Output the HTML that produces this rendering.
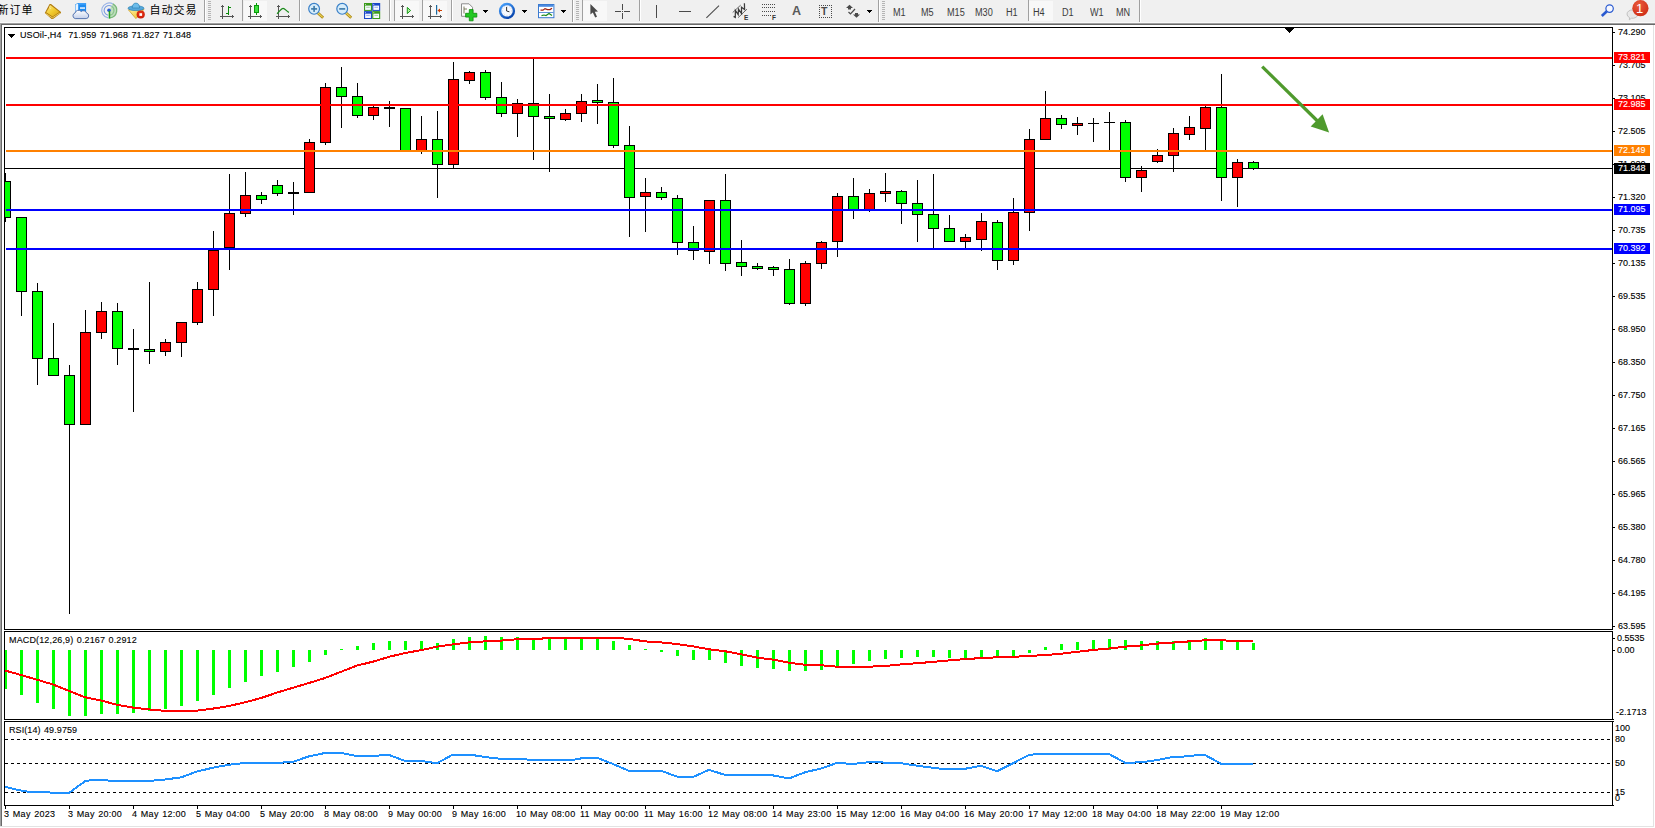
<!DOCTYPE html>
<html lang="zh">
<head>
<meta charset="utf-8">
<title>USOil H4</title>
<style>
html,body{margin:0;padding:0;}
body{width:1655px;height:828px;overflow:hidden;background:#f0f0f0;position:relative;font-family:"Liberation Sans","Noto Sans CJK SC",sans-serif;}
#g{position:absolute;left:0;top:0;}
span{position:absolute;white-space:nowrap;}
.ax,.tm,.lb{-webkit-text-stroke:0.12px #000;}
.bx .ax{-webkit-text-stroke:0.12px #fff;}
.ax{left:1618px;font-size:9.5px;line-height:11px;height:11px;color:#000;transform:scaleX(0.947);transform-origin:0 0;}
.bx{position:absolute;left:1614px;width:36px;height:11px;color:#fff;overflow:hidden;}
.bx .ax{color:#fff;}
.tm{top:808px;font-size:9.5px;line-height:11px;color:#000;letter-spacing:0.3px;word-spacing:0.8px;transform:scaleX(0.947);transform-origin:0 0;}
.lb{font-size:9.5px;line-height:11px;color:#000;letter-spacing:0.12px;word-spacing:0.8px;transform:scaleX(0.947);transform-origin:0 0;}
.tb{font-size:11px;letter-spacing:1px;line-height:16px;color:#000;top:2px;}
.tf{font-size:10px;line-height:11px;color:#3c3c3c;top:6.5px;transform:scaleX(0.91);transform-origin:0 0;}
</style>
</head>
<body>
<svg id="g" width="1655" height="828" viewBox="0 0 1655 828" shape-rendering="crispEdges">
<defs><clipPath id="cpm"><rect x="5" y="28" width="1607" height="601"/></clipPath>
<linearGradient id="gbk" x1="0" y1="0" x2="1" y2="1"><stop offset="0" stop-color="#fbe888"/><stop offset="0.5" stop-color="#f2cc30"/><stop offset="1" stop-color="#d8a418"/></linearGradient>
<radialGradient id="gbd" cx="0.4" cy="0.3" r="0.8"><stop offset="0" stop-color="#ea5a3c"/><stop offset="1" stop-color="#cc2a12"/></radialGradient>
<linearGradient id="gcl" x1="0" y1="0" x2="0" y2="1"><stop offset="0" stop-color="#ffffff"/><stop offset="1" stop-color="#c4d0ea"/></linearGradient>
<linearGradient id="gfc" x1="0" y1="0" x2="1" y2="1"><stop offset="0" stop-color="#fff0a0"/><stop offset="1" stop-color="#eebc20"/></linearGradient>
<radialGradient id="grd" cx="0.5" cy="0.4" r="0.7"><stop offset="0" stop-color="#f03a18"/><stop offset="1" stop-color="#c01808"/></radialGradient>
<linearGradient id="gck" x1="0" y1="0" x2="0.6" y2="1"><stop offset="0" stop-color="#4aa4ff"/><stop offset="1" stop-color="#0a48b0"/></linearGradient>
</defs>
<rect x="0" y="23" width="1655" height="805" fill="#ffffff"/>
<rect x="0" y="22" width="1655" height="1" fill="#fafafa"/>
<rect x="0" y="23" width="1655" height="1" fill="#a0a0a0"/>
<rect x="1" y="24" width="1654" height="1" fill="#696969"/>
<rect x="0" y="23" width="1" height="803" fill="#a0a0a0"/>
<rect x="1" y="24" width="1" height="802" fill="#696969"/>
<rect x="1653" y="25" width="1" height="802" fill="#e3e3e3"/>
<rect x="0" y="826" width="1654" height="1" fill="#e3e3e3"/>
<rect x="4" y="27" width="1609" height="1" fill="#000"/>
<rect x="4" y="629" width="1609" height="1" fill="#000"/>
<rect x="4" y="27" width="1" height="603" fill="#000"/>
<rect x="1612" y="27" width="1" height="603" fill="#000"/>
<rect x="4" y="631" width="1609" height="1" fill="#000"/>
<rect x="4" y="719" width="1609" height="1" fill="#000"/>
<rect x="4" y="631" width="1" height="89" fill="#000"/>
<rect x="1612" y="631" width="1" height="89" fill="#000"/>
<rect x="4" y="721" width="1609" height="1" fill="#000"/>
<rect x="4" y="805" width="1609" height="1" fill="#000"/>
<rect x="4" y="721" width="1" height="85" fill="#000"/>
<rect x="1612" y="721" width="1" height="85" fill="#000"/>
<rect x="5" y="168" width="1607" height="1" fill="#000"/>
<g clip-path="url(#cpm)">
<rect x="5" y="173" width="1" height="49" fill="#000"/>
<rect x="0" y="181" width="11" height="37" fill="#000"/>
<rect x="1" y="182" width="9" height="35" fill="#00ff00"/>
<rect x="21" y="217" width="1" height="99" fill="#000"/>
<rect x="16" y="217" width="11" height="75" fill="#000"/>
<rect x="17" y="218" width="9" height="73" fill="#00ff00"/>
<rect x="37" y="283" width="1" height="102" fill="#000"/>
<rect x="32" y="291" width="11" height="68" fill="#000"/>
<rect x="33" y="292" width="9" height="66" fill="#00ff00"/>
<rect x="53" y="323" width="1" height="53" fill="#000"/>
<rect x="48" y="358" width="11" height="18" fill="#000"/>
<rect x="49" y="359" width="9" height="16" fill="#00ff00"/>
<rect x="69" y="365" width="1" height="249" fill="#000"/>
<rect x="64" y="375" width="11" height="50" fill="#000"/>
<rect x="65" y="376" width="9" height="48" fill="#00ff00"/>
<rect x="85" y="310" width="1" height="115" fill="#000"/>
<rect x="80" y="332" width="11" height="93" fill="#000"/>
<rect x="81" y="333" width="9" height="91" fill="#ff0000"/>
<rect x="101" y="302" width="1" height="37" fill="#000"/>
<rect x="96" y="311" width="11" height="22" fill="#000"/>
<rect x="97" y="312" width="9" height="20" fill="#ff0000"/>
<rect x="117" y="303" width="1" height="62" fill="#000"/>
<rect x="112" y="311" width="11" height="38" fill="#000"/>
<rect x="113" y="312" width="9" height="36" fill="#00ff00"/>
<rect x="133" y="329" width="1" height="83" fill="#000"/>
<rect x="128" y="348" width="11" height="2" fill="#000"/>
<rect x="149" y="282" width="1" height="82" fill="#000"/>
<rect x="144" y="349" width="11" height="3" fill="#000"/>
<rect x="145" y="350" width="9" height="1" fill="#00ff00"/>
<rect x="165" y="339" width="1" height="17" fill="#000"/>
<rect x="160" y="342" width="11" height="10" fill="#000"/>
<rect x="161" y="343" width="9" height="8" fill="#ff0000"/>
<rect x="181" y="322" width="1" height="35" fill="#000"/>
<rect x="176" y="322" width="11" height="21" fill="#000"/>
<rect x="177" y="323" width="9" height="19" fill="#ff0000"/>
<rect x="197" y="282" width="1" height="43" fill="#000"/>
<rect x="192" y="289" width="11" height="34" fill="#000"/>
<rect x="193" y="290" width="9" height="32" fill="#ff0000"/>
<rect x="213" y="231" width="1" height="85" fill="#000"/>
<rect x="208" y="250" width="11" height="40" fill="#000"/>
<rect x="209" y="251" width="9" height="38" fill="#ff0000"/>
<rect x="229" y="174" width="1" height="96" fill="#000"/>
<rect x="224" y="213" width="11" height="35" fill="#000"/>
<rect x="225" y="214" width="9" height="33" fill="#ff0000"/>
<rect x="245" y="172" width="1" height="45" fill="#000"/>
<rect x="240" y="195" width="11" height="19" fill="#000"/>
<rect x="241" y="196" width="9" height="17" fill="#ff0000"/>
<rect x="261" y="192" width="1" height="12" fill="#000"/>
<rect x="256" y="195" width="11" height="5" fill="#000"/>
<rect x="257" y="196" width="9" height="3" fill="#00ff00"/>
<rect x="277" y="180" width="1" height="16" fill="#000"/>
<rect x="272" y="185" width="11" height="9" fill="#000"/>
<rect x="273" y="186" width="9" height="7" fill="#00ff00"/>
<rect x="293" y="182" width="1" height="33" fill="#000"/>
<rect x="288" y="192" width="11" height="2" fill="#000"/>
<rect x="309" y="139" width="1" height="54" fill="#000"/>
<rect x="304" y="142" width="11" height="51" fill="#000"/>
<rect x="305" y="143" width="9" height="49" fill="#ff0000"/>
<rect x="325" y="83" width="1" height="62" fill="#000"/>
<rect x="320" y="87" width="11" height="56" fill="#000"/>
<rect x="321" y="88" width="9" height="54" fill="#ff0000"/>
<rect x="341" y="67" width="1" height="61" fill="#000"/>
<rect x="336" y="87" width="11" height="10" fill="#000"/>
<rect x="337" y="88" width="9" height="8" fill="#00ff00"/>
<rect x="357" y="83" width="1" height="35" fill="#000"/>
<rect x="352" y="96" width="11" height="20" fill="#000"/>
<rect x="353" y="97" width="9" height="18" fill="#00ff00"/>
<rect x="373" y="106" width="1" height="14" fill="#000"/>
<rect x="368" y="107" width="11" height="9" fill="#000"/>
<rect x="369" y="108" width="9" height="7" fill="#ff0000"/>
<rect x="389" y="101" width="1" height="26" fill="#000"/>
<rect x="384" y="107" width="11" height="2" fill="#000"/>
<rect x="405" y="108" width="1" height="44" fill="#000"/>
<rect x="400" y="108" width="11" height="44" fill="#000"/>
<rect x="401" y="109" width="9" height="42" fill="#00ff00"/>
<rect x="421" y="116" width="1" height="38" fill="#000"/>
<rect x="416" y="139" width="11" height="13" fill="#000"/>
<rect x="417" y="140" width="9" height="11" fill="#ff0000"/>
<rect x="437" y="111" width="1" height="87" fill="#000"/>
<rect x="432" y="139" width="11" height="26" fill="#000"/>
<rect x="433" y="140" width="9" height="24" fill="#00ff00"/>
<rect x="453" y="62" width="1" height="106" fill="#000"/>
<rect x="448" y="79" width="11" height="86" fill="#000"/>
<rect x="449" y="80" width="9" height="84" fill="#ff0000"/>
<rect x="469" y="71" width="1" height="13" fill="#000"/>
<rect x="464" y="72" width="11" height="9" fill="#000"/>
<rect x="465" y="73" width="9" height="7" fill="#ff0000"/>
<rect x="485" y="70" width="1" height="30" fill="#000"/>
<rect x="480" y="72" width="11" height="26" fill="#000"/>
<rect x="481" y="73" width="9" height="24" fill="#00ff00"/>
<rect x="501" y="82" width="1" height="35" fill="#000"/>
<rect x="496" y="97" width="11" height="17" fill="#000"/>
<rect x="497" y="98" width="9" height="15" fill="#00ff00"/>
<rect x="517" y="99" width="1" height="38" fill="#000"/>
<rect x="512" y="103" width="11" height="11" fill="#000"/>
<rect x="513" y="104" width="9" height="9" fill="#ff0000"/>
<rect x="533" y="59" width="1" height="101" fill="#000"/>
<rect x="528" y="103" width="11" height="14" fill="#000"/>
<rect x="529" y="104" width="9" height="12" fill="#00ff00"/>
<rect x="549" y="94" width="1" height="78" fill="#000"/>
<rect x="544" y="116" width="11" height="3" fill="#000"/>
<rect x="545" y="117" width="9" height="1" fill="#00ff00"/>
<rect x="565" y="109" width="1" height="12" fill="#000"/>
<rect x="560" y="113" width="11" height="7" fill="#000"/>
<rect x="561" y="114" width="9" height="5" fill="#ff0000"/>
<rect x="581" y="94" width="1" height="28" fill="#000"/>
<rect x="576" y="101" width="11" height="13" fill="#000"/>
<rect x="577" y="102" width="9" height="11" fill="#ff0000"/>
<rect x="597" y="84" width="1" height="40" fill="#000"/>
<rect x="592" y="100" width="11" height="3" fill="#000"/>
<rect x="593" y="101" width="9" height="1" fill="#00ff00"/>
<rect x="613" y="78" width="1" height="70" fill="#000"/>
<rect x="608" y="102" width="11" height="44" fill="#000"/>
<rect x="609" y="103" width="9" height="42" fill="#00ff00"/>
<rect x="629" y="126" width="1" height="111" fill="#000"/>
<rect x="624" y="145" width="11" height="53" fill="#000"/>
<rect x="625" y="146" width="9" height="51" fill="#00ff00"/>
<rect x="645" y="178" width="1" height="54" fill="#000"/>
<rect x="640" y="192" width="11" height="5" fill="#000"/>
<rect x="641" y="193" width="9" height="3" fill="#ff0000"/>
<rect x="661" y="187" width="1" height="13" fill="#000"/>
<rect x="656" y="192" width="11" height="6" fill="#000"/>
<rect x="657" y="193" width="9" height="4" fill="#00ff00"/>
<rect x="677" y="195" width="1" height="60" fill="#000"/>
<rect x="672" y="198" width="11" height="45" fill="#000"/>
<rect x="673" y="199" width="9" height="43" fill="#00ff00"/>
<rect x="693" y="226" width="1" height="34" fill="#000"/>
<rect x="688" y="242" width="11" height="9" fill="#000"/>
<rect x="689" y="243" width="9" height="7" fill="#00ff00"/>
<rect x="709" y="200" width="1" height="64" fill="#000"/>
<rect x="704" y="200" width="11" height="52" fill="#000"/>
<rect x="705" y="201" width="9" height="50" fill="#ff0000"/>
<rect x="725" y="174" width="1" height="97" fill="#000"/>
<rect x="720" y="200" width="11" height="64" fill="#000"/>
<rect x="721" y="201" width="9" height="62" fill="#00ff00"/>
<rect x="741" y="240" width="1" height="36" fill="#000"/>
<rect x="736" y="262" width="11" height="5" fill="#000"/>
<rect x="737" y="263" width="9" height="3" fill="#00ff00"/>
<rect x="757" y="263" width="1" height="7" fill="#000"/>
<rect x="752" y="266" width="11" height="3" fill="#000"/>
<rect x="753" y="267" width="9" height="1" fill="#00ff00"/>
<rect x="773" y="266" width="1" height="10" fill="#000"/>
<rect x="768" y="267" width="11" height="3" fill="#000"/>
<rect x="769" y="268" width="9" height="1" fill="#00ff00"/>
<rect x="789" y="259" width="1" height="46" fill="#000"/>
<rect x="784" y="269" width="11" height="35" fill="#000"/>
<rect x="785" y="270" width="9" height="33" fill="#00ff00"/>
<rect x="805" y="261" width="1" height="45" fill="#000"/>
<rect x="800" y="263" width="11" height="41" fill="#000"/>
<rect x="801" y="264" width="9" height="39" fill="#ff0000"/>
<rect x="821" y="241" width="1" height="28" fill="#000"/>
<rect x="816" y="242" width="11" height="22" fill="#000"/>
<rect x="817" y="243" width="9" height="20" fill="#ff0000"/>
<rect x="837" y="193" width="1" height="64" fill="#000"/>
<rect x="832" y="196" width="11" height="46" fill="#000"/>
<rect x="833" y="197" width="9" height="44" fill="#ff0000"/>
<rect x="853" y="178" width="1" height="41" fill="#000"/>
<rect x="848" y="196" width="11" height="15" fill="#000"/>
<rect x="849" y="197" width="9" height="13" fill="#00ff00"/>
<rect x="869" y="189" width="1" height="23" fill="#000"/>
<rect x="864" y="193" width="11" height="18" fill="#000"/>
<rect x="865" y="194" width="9" height="16" fill="#ff0000"/>
<rect x="885" y="173" width="1" height="29" fill="#000"/>
<rect x="880" y="191" width="11" height="3" fill="#000"/>
<rect x="881" y="192" width="9" height="1" fill="#ff0000"/>
<rect x="901" y="190" width="1" height="34" fill="#000"/>
<rect x="896" y="191" width="11" height="13" fill="#000"/>
<rect x="897" y="192" width="9" height="11" fill="#00ff00"/>
<rect x="917" y="180" width="1" height="62" fill="#000"/>
<rect x="912" y="203" width="11" height="12" fill="#000"/>
<rect x="913" y="204" width="9" height="10" fill="#00ff00"/>
<rect x="933" y="174" width="1" height="74" fill="#000"/>
<rect x="928" y="214" width="11" height="15" fill="#000"/>
<rect x="929" y="215" width="9" height="13" fill="#00ff00"/>
<rect x="949" y="215" width="1" height="27" fill="#000"/>
<rect x="944" y="228" width="11" height="14" fill="#000"/>
<rect x="945" y="229" width="9" height="12" fill="#00ff00"/>
<rect x="965" y="234" width="1" height="14" fill="#000"/>
<rect x="960" y="237" width="11" height="5" fill="#000"/>
<rect x="961" y="238" width="9" height="3" fill="#ff0000"/>
<rect x="981" y="213" width="1" height="38" fill="#000"/>
<rect x="976" y="221" width="11" height="19" fill="#000"/>
<rect x="977" y="222" width="9" height="17" fill="#ff0000"/>
<rect x="997" y="220" width="1" height="50" fill="#000"/>
<rect x="992" y="222" width="11" height="39" fill="#000"/>
<rect x="993" y="223" width="9" height="37" fill="#00ff00"/>
<rect x="1013" y="198" width="1" height="67" fill="#000"/>
<rect x="1008" y="212" width="11" height="49" fill="#000"/>
<rect x="1009" y="213" width="9" height="47" fill="#ff0000"/>
<rect x="1029" y="129" width="1" height="102" fill="#000"/>
<rect x="1024" y="139" width="11" height="74" fill="#000"/>
<rect x="1025" y="140" width="9" height="72" fill="#ff0000"/>
<rect x="1045" y="91" width="1" height="49" fill="#000"/>
<rect x="1040" y="118" width="11" height="22" fill="#000"/>
<rect x="1041" y="119" width="9" height="20" fill="#ff0000"/>
<rect x="1061" y="115" width="1" height="14" fill="#000"/>
<rect x="1056" y="118" width="11" height="7" fill="#000"/>
<rect x="1057" y="119" width="9" height="5" fill="#00ff00"/>
<rect x="1077" y="117" width="1" height="18" fill="#000"/>
<rect x="1072" y="123" width="11" height="3" fill="#000"/>
<rect x="1073" y="124" width="9" height="1" fill="#ff0000"/>
<rect x="1093" y="118" width="1" height="24" fill="#000"/>
<rect x="1088" y="123" width="11" height="1" fill="#000"/>
<rect x="1109" y="112" width="1" height="38" fill="#000"/>
<rect x="1104" y="122" width="11" height="1" fill="#000"/>
<rect x="1125" y="120" width="1" height="62" fill="#000"/>
<rect x="1120" y="122" width="11" height="56" fill="#000"/>
<rect x="1121" y="123" width="9" height="54" fill="#00ff00"/>
<rect x="1141" y="166" width="1" height="26" fill="#000"/>
<rect x="1136" y="170" width="11" height="8" fill="#000"/>
<rect x="1137" y="171" width="9" height="6" fill="#ff0000"/>
<rect x="1157" y="149" width="1" height="14" fill="#000"/>
<rect x="1152" y="155" width="11" height="7" fill="#000"/>
<rect x="1153" y="156" width="9" height="5" fill="#ff0000"/>
<rect x="1173" y="128" width="1" height="44" fill="#000"/>
<rect x="1168" y="133" width="11" height="23" fill="#000"/>
<rect x="1169" y="134" width="9" height="21" fill="#ff0000"/>
<rect x="1189" y="116" width="1" height="24" fill="#000"/>
<rect x="1184" y="127" width="11" height="8" fill="#000"/>
<rect x="1185" y="128" width="9" height="6" fill="#ff0000"/>
<rect x="1205" y="106" width="1" height="44" fill="#000"/>
<rect x="1200" y="107" width="11" height="22" fill="#000"/>
<rect x="1201" y="108" width="9" height="20" fill="#ff0000"/>
<rect x="1221" y="74" width="1" height="127" fill="#000"/>
<rect x="1216" y="107" width="11" height="71" fill="#000"/>
<rect x="1217" y="108" width="9" height="69" fill="#00ff00"/>
<rect x="1237" y="159" width="1" height="48" fill="#000"/>
<rect x="1232" y="162" width="11" height="16" fill="#000"/>
<rect x="1233" y="163" width="9" height="14" fill="#ff0000"/>
<rect x="1253" y="161" width="1" height="9" fill="#000"/>
<rect x="1248" y="162" width="11" height="7" fill="#000"/>
<rect x="1249" y="163" width="9" height="5" fill="#00ff00"/>
</g>
<rect x="6" y="57" width="1606" height="2" fill="#ff0000"/>
<rect x="6" y="104" width="1606" height="2" fill="#ff0000"/>
<rect x="6" y="150" width="1606" height="2" fill="#ff8000"/>
<rect x="6" y="209" width="1606" height="2" fill="#0000ff"/>
<rect x="6" y="248" width="1606" height="2" fill="#0000ff"/>
<g shape-rendering="geometricPrecision"><line x1="1262.2" y1="66.7" x2="1318" y2="121.5" stroke="#4f9a2d" stroke-width="3.2"/><polygon points="1329.1,132.4 1322.6,114.2 1310.7,126.5" fill="#4f9a2d"/></g>
<rect x="1285" y="28" width="9" height="1" fill="#000"/>
<rect x="1286" y="29" width="7" height="1" fill="#000"/>
<rect x="1287" y="30" width="5" height="1" fill="#000"/>
<rect x="1288" y="31" width="3" height="1" fill="#000"/>
<rect x="1289" y="32" width="1" height="1" fill="#000"/>
<rect x="1613" y="32" width="2" height="1" fill="#000"/>
<rect x="1613" y="65" width="2" height="1" fill="#000"/>
<rect x="1613" y="98" width="2" height="1" fill="#000"/>
<rect x="1613" y="131" width="2" height="1" fill="#000"/>
<rect x="1613" y="164" width="2" height="1" fill="#000"/>
<rect x="1613" y="197" width="2" height="1" fill="#000"/>
<rect x="1613" y="230" width="2" height="1" fill="#000"/>
<rect x="1613" y="263" width="2" height="1" fill="#000"/>
<rect x="1613" y="296" width="2" height="1" fill="#000"/>
<rect x="1613" y="329" width="2" height="1" fill="#000"/>
<rect x="1613" y="362" width="2" height="1" fill="#000"/>
<rect x="1613" y="395" width="2" height="1" fill="#000"/>
<rect x="1613" y="428" width="2" height="1" fill="#000"/>
<rect x="1613" y="461" width="2" height="1" fill="#000"/>
<rect x="1613" y="494" width="2" height="1" fill="#000"/>
<rect x="1613" y="527" width="2" height="1" fill="#000"/>
<rect x="1613" y="560" width="2" height="1" fill="#000"/>
<rect x="1613" y="593" width="2" height="1" fill="#000"/>
<rect x="1613" y="626" width="2" height="1" fill="#000"/>
<rect x="5" y="650" width="2" height="39" fill="#00ff00"/>
<rect x="20" y="650" width="3" height="45" fill="#00ff00"/>
<rect x="36" y="650" width="3" height="53" fill="#00ff00"/>
<rect x="52" y="650" width="3" height="59" fill="#00ff00"/>
<rect x="68" y="650" width="3" height="66" fill="#00ff00"/>
<rect x="84" y="650" width="3" height="66" fill="#00ff00"/>
<rect x="100" y="650" width="3" height="64" fill="#00ff00"/>
<rect x="116" y="650" width="3" height="64" fill="#00ff00"/>
<rect x="132" y="650" width="3" height="63" fill="#00ff00"/>
<rect x="148" y="650" width="3" height="61" fill="#00ff00"/>
<rect x="164" y="650" width="3" height="59" fill="#00ff00"/>
<rect x="180" y="650" width="3" height="56" fill="#00ff00"/>
<rect x="196" y="650" width="3" height="51" fill="#00ff00"/>
<rect x="212" y="650" width="3" height="45" fill="#00ff00"/>
<rect x="228" y="650" width="3" height="38" fill="#00ff00"/>
<rect x="244" y="650" width="3" height="32" fill="#00ff00"/>
<rect x="260" y="650" width="3" height="26" fill="#00ff00"/>
<rect x="276" y="650" width="3" height="22" fill="#00ff00"/>
<rect x="292" y="650" width="3" height="17" fill="#00ff00"/>
<rect x="308" y="650" width="3" height="12" fill="#00ff00"/>
<rect x="324" y="650" width="3" height="5" fill="#00ff00"/>
<rect x="340" y="649" width="3" height="1" fill="#00ff00"/>
<rect x="356" y="646" width="3" height="4" fill="#00ff00"/>
<rect x="372" y="643" width="3" height="7" fill="#00ff00"/>
<rect x="388" y="641" width="3" height="9" fill="#00ff00"/>
<rect x="404" y="641" width="3" height="9" fill="#00ff00"/>
<rect x="420" y="641" width="3" height="9" fill="#00ff00"/>
<rect x="436" y="643" width="3" height="7" fill="#00ff00"/>
<rect x="452" y="639" width="3" height="11" fill="#00ff00"/>
<rect x="468" y="637" width="3" height="13" fill="#00ff00"/>
<rect x="484" y="636" width="3" height="14" fill="#00ff00"/>
<rect x="500" y="637" width="3" height="13" fill="#00ff00"/>
<rect x="516" y="637" width="3" height="13" fill="#00ff00"/>
<rect x="532" y="638" width="3" height="12" fill="#00ff00"/>
<rect x="548" y="638" width="3" height="12" fill="#00ff00"/>
<rect x="564" y="638" width="3" height="12" fill="#00ff00"/>
<rect x="580" y="638" width="3" height="12" fill="#00ff00"/>
<rect x="596" y="638" width="3" height="12" fill="#00ff00"/>
<rect x="612" y="641" width="3" height="9" fill="#00ff00"/>
<rect x="628" y="645" width="3" height="5" fill="#00ff00"/>
<rect x="644" y="649" width="3" height="1" fill="#00ff00"/>
<rect x="660" y="650" width="3" height="2" fill="#00ff00"/>
<rect x="676" y="650" width="3" height="6" fill="#00ff00"/>
<rect x="692" y="650" width="3" height="10" fill="#00ff00"/>
<rect x="708" y="650" width="3" height="10" fill="#00ff00"/>
<rect x="724" y="650" width="3" height="13" fill="#00ff00"/>
<rect x="740" y="650" width="3" height="16" fill="#00ff00"/>
<rect x="756" y="650" width="3" height="18" fill="#00ff00"/>
<rect x="772" y="650" width="3" height="19" fill="#00ff00"/>
<rect x="788" y="650" width="3" height="21" fill="#00ff00"/>
<rect x="804" y="650" width="3" height="21" fill="#00ff00"/>
<rect x="820" y="650" width="3" height="20" fill="#00ff00"/>
<rect x="836" y="650" width="3" height="16" fill="#00ff00"/>
<rect x="852" y="650" width="3" height="14" fill="#00ff00"/>
<rect x="868" y="650" width="3" height="11" fill="#00ff00"/>
<rect x="884" y="650" width="3" height="9" fill="#00ff00"/>
<rect x="900" y="650" width="3" height="8" fill="#00ff00"/>
<rect x="916" y="650" width="3" height="7" fill="#00ff00"/>
<rect x="932" y="650" width="3" height="7" fill="#00ff00"/>
<rect x="948" y="650" width="3" height="8" fill="#00ff00"/>
<rect x="964" y="650" width="3" height="9" fill="#00ff00"/>
<rect x="980" y="650" width="3" height="7" fill="#00ff00"/>
<rect x="996" y="650" width="3" height="8" fill="#00ff00"/>
<rect x="1012" y="650" width="3" height="6" fill="#00ff00"/>
<rect x="1028" y="650" width="3" height="3" fill="#00ff00"/>
<rect x="1044" y="647" width="3" height="3" fill="#00ff00"/>
<rect x="1060" y="644" width="3" height="6" fill="#00ff00"/>
<rect x="1076" y="642" width="3" height="8" fill="#00ff00"/>
<rect x="1092" y="640" width="3" height="10" fill="#00ff00"/>
<rect x="1108" y="639" width="3" height="11" fill="#00ff00"/>
<rect x="1124" y="640" width="3" height="10" fill="#00ff00"/>
<rect x="1140" y="641" width="3" height="9" fill="#00ff00"/>
<rect x="1156" y="641" width="3" height="9" fill="#00ff00"/>
<rect x="1172" y="641" width="3" height="9" fill="#00ff00"/>
<rect x="1188" y="640" width="3" height="10" fill="#00ff00"/>
<rect x="1204" y="638" width="3" height="12" fill="#00ff00"/>
<rect x="1220" y="640" width="3" height="10" fill="#00ff00"/>
<rect x="1236" y="642" width="3" height="8" fill="#00ff00"/>
<rect x="1252" y="643" width="3" height="7" fill="#00ff00"/>
<polyline points="5,670.5 21,675.0 37,679.7 53,684.5 69,691.0 85,697.2 101,700.5 117,704.8 133,707.6 149,709.4 165,710.9 181,710.9 197,710.6 213,708.6 229,706.0 245,702.3 261,698.0 277,692.6 293,687.8 309,683.0 325,678.0 341,671.8 357,665.5 373,661.7 389,656.8 405,653.0 421,650.2 437,646.7 453,644.4 469,642.4 485,641.4 501,640.6 517,639.3 533,638.8 549,638.3 565,637.5 581,637.5 597,637.5 613,637.8 629,638.8 645,641.4 661,642.4 677,644.0 693,646.4 709,649.2 725,651.2 741,654.3 757,657.6 773,659.6 789,662.7 805,664.7 821,665.2 837,666.7 853,666.7 869,666.7 885,666.0 901,664.4 917,663.2 933,661.9 949,660.4 965,659.1 981,658.1 997,657.3 1013,656.8 1029,656.0 1045,655.0 1061,653.8 1077,651.8 1093,650.0 1109,648.5 1125,646.7 1141,645.4 1157,643.6 1173,642.6 1189,641.4 1205,640.3 1221,640.3 1237,641.0 1253,641.0" fill="none" stroke="#ff0000" stroke-width="2" shape-rendering="crispEdges" stroke-linejoin="round"/>
<rect x="1613" y="638" width="2" height="1" fill="#000"/>
<rect x="1613" y="650" width="2" height="1" fill="#000"/>
<line x1="5" y1="739.5" x2="1612" y2="739.5" stroke="#000" stroke-width="1" stroke-dasharray="3 3"/>
<line x1="5" y1="763.5" x2="1612" y2="763.5" stroke="#000" stroke-width="1" stroke-dasharray="3 3"/>
<line x1="5" y1="792.5" x2="1612" y2="792.5" stroke="#000" stroke-width="1" stroke-dasharray="3 3"/>
<polyline points="5,786.8 21,790.6 29,791.9 53,792.6 69,793.0 85,781.2 93,779.7 117,781.0 149,781.0 165,779.5 181,777.4 197,771.5 213,767.7 229,764.7 245,762.9 277,762.9 293,761.9 309,756.3 325,753.0 341,753.0 357,756.0 373,755.8 389,755.0 405,760.9 421,760.9 437,763.2 453,754.5 469,754.5 485,757.0 501,758.9 517,758.9 533,759.9 573,759.9 581,758.4 597,757.8 613,764.0 629,770.8 661,770.8 677,776.6 693,777.1 709,769.8 725,774.9 757,774.9 773,775.4 789,778.4 805,772.3 821,768.5 837,762.9 853,764.0 869,762.2 877,762.0 885,762.7 901,763.2 917,765.7 933,767.7 941,768.8 965,768.8 981,765.7 997,771.3 1013,763.2 1029,755.0 1037,754.0 1109,754.0 1125,762.7 1141,762.4 1157,760.0 1173,757.0 1189,756.3 1197,755.0 1205,755.0 1221,763.7 1253,763.7" fill="none" stroke="#1e90ff" stroke-width="2" shape-rendering="crispEdges" stroke-linejoin="round"/>
<rect x="1613" y="719" width="1" height="1" fill="#000"/>
<rect x="1613" y="721" width="1" height="1" fill="#000"/>
<rect x="1613" y="805" width="1" height="1" fill="#000"/>
<rect x="5" y="806" width="1" height="3" fill="#000"/>
<rect x="69" y="806" width="1" height="3" fill="#000"/>
<rect x="133" y="806" width="1" height="3" fill="#000"/>
<rect x="197" y="806" width="1" height="3" fill="#000"/>
<rect x="261" y="806" width="1" height="3" fill="#000"/>
<rect x="325" y="806" width="1" height="3" fill="#000"/>
<rect x="389" y="806" width="1" height="3" fill="#000"/>
<rect x="453" y="806" width="1" height="3" fill="#000"/>
<rect x="517" y="806" width="1" height="3" fill="#000"/>
<rect x="581" y="806" width="1" height="3" fill="#000"/>
<rect x="645" y="806" width="1" height="3" fill="#000"/>
<rect x="709" y="806" width="1" height="3" fill="#000"/>
<rect x="773" y="806" width="1" height="3" fill="#000"/>
<rect x="837" y="806" width="1" height="3" fill="#000"/>
<rect x="901" y="806" width="1" height="3" fill="#000"/>
<rect x="965" y="806" width="1" height="3" fill="#000"/>
<rect x="1029" y="806" width="1" height="3" fill="#000"/>
<rect x="1093" y="806" width="1" height="3" fill="#000"/>
<rect x="1157" y="806" width="1" height="3" fill="#000"/>
<rect x="1221" y="806" width="1" height="3" fill="#000"/>
<rect x="8" y="34" width="7" height="1" fill="#000"/>
<rect x="9" y="35" width="5" height="1" fill="#000"/>
<rect x="10" y="36" width="3" height="1" fill="#000"/>
<rect x="11" y="37" width="1" height="1" fill="#000"/>
<rect x="0" y="0" width="1655" height="22" fill="#f0f0f0"/>
<rect x="244" y="1" width="23" height="20" fill="#f8f8f8"/>
<rect x="242" y="0" width="1" height="21" fill="#a0a0a0"/>
<rect x="395" y="1" width="24" height="20" fill="#f8f8f8"/>
<rect x="394" y="0" width="1" height="21" fill="#a0a0a0"/>
<rect x="423" y="1" width="24" height="20" fill="#f8f8f8"/>
<rect x="422" y="0" width="1" height="21" fill="#a0a0a0"/>
<rect x="583" y="1" width="24" height="20" fill="#f8f8f8"/>
<rect x="582" y="0" width="1" height="21" fill="#a0a0a0"/>
<rect x="1029" y="1" width="24" height="20" fill="#f8f8f8"/>
<rect x="1028" y="0" width="1" height="21" fill="#a0a0a0"/>
<rect x="204" y="0" width="1" height="22" fill="#a0a0a0"/>
<rect x="205" y="0" width="1" height="22" fill="#ffffff"/>
<rect x="208" y="1" width="3" height="1" fill="#b4b4b4"/>
<rect x="208" y="3" width="3" height="1" fill="#b4b4b4"/>
<rect x="208" y="5" width="3" height="1" fill="#b4b4b4"/>
<rect x="208" y="7" width="3" height="1" fill="#b4b4b4"/>
<rect x="208" y="9" width="3" height="1" fill="#b4b4b4"/>
<rect x="208" y="11" width="3" height="1" fill="#b4b4b4"/>
<rect x="208" y="13" width="3" height="1" fill="#b4b4b4"/>
<rect x="208" y="15" width="3" height="1" fill="#b4b4b4"/>
<rect x="208" y="17" width="3" height="1" fill="#b4b4b4"/>
<rect x="208" y="19" width="3" height="1" fill="#b4b4b4"/>
<rect x="299" y="0" width="1" height="21" fill="#a0a0a0"/>
<rect x="300" y="0" width="1" height="21" fill="#ffffff"/>
<rect x="389" y="0" width="1" height="21" fill="#a0a0a0"/>
<rect x="390" y="0" width="1" height="21" fill="#ffffff"/>
<rect x="451" y="0" width="1" height="21" fill="#a0a0a0"/>
<rect x="452" y="0" width="1" height="21" fill="#ffffff"/>
<rect x="572" y="0" width="1" height="22" fill="#a0a0a0"/>
<rect x="573" y="0" width="1" height="22" fill="#ffffff"/>
<rect x="576" y="1" width="3" height="1" fill="#b4b4b4"/>
<rect x="576" y="3" width="3" height="1" fill="#b4b4b4"/>
<rect x="576" y="5" width="3" height="1" fill="#b4b4b4"/>
<rect x="576" y="7" width="3" height="1" fill="#b4b4b4"/>
<rect x="576" y="9" width="3" height="1" fill="#b4b4b4"/>
<rect x="576" y="11" width="3" height="1" fill="#b4b4b4"/>
<rect x="576" y="13" width="3" height="1" fill="#b4b4b4"/>
<rect x="576" y="15" width="3" height="1" fill="#b4b4b4"/>
<rect x="576" y="17" width="3" height="1" fill="#b4b4b4"/>
<rect x="576" y="19" width="3" height="1" fill="#b4b4b4"/>
<rect x="639" y="0" width="1" height="21" fill="#a0a0a0"/>
<rect x="640" y="0" width="1" height="21" fill="#ffffff"/>
<rect x="878" y="0" width="1" height="22" fill="#a0a0a0"/>
<rect x="879" y="0" width="1" height="22" fill="#ffffff"/>
<rect x="882" y="1" width="3" height="1" fill="#b4b4b4"/>
<rect x="882" y="3" width="3" height="1" fill="#b4b4b4"/>
<rect x="882" y="5" width="3" height="1" fill="#b4b4b4"/>
<rect x="882" y="7" width="3" height="1" fill="#b4b4b4"/>
<rect x="882" y="9" width="3" height="1" fill="#b4b4b4"/>
<rect x="882" y="11" width="3" height="1" fill="#b4b4b4"/>
<rect x="882" y="13" width="3" height="1" fill="#b4b4b4"/>
<rect x="882" y="15" width="3" height="1" fill="#b4b4b4"/>
<rect x="882" y="17" width="3" height="1" fill="#b4b4b4"/>
<rect x="882" y="19" width="3" height="1" fill="#b4b4b4"/>
<rect x="1139" y="0" width="1" height="22" fill="#a0a0a0"/>
<rect x="1140" y="0" width="1" height="22" fill="#ffffff"/>
<g shape-rendering="geometricPrecision">
<polygon points="44.8,12.9 49.6,4 51,4 61,11.9 61,13 53,19 51.6,19" fill="#b07a0c"/>
<polygon points="46.2,12.2 50.6,5.2 59.4,12 52.6,16.4" fill="url(#gbk)"/>
<path d="M45.8,13.6 L52.4,17.8 L60.2,12.9" fill="none" stroke="#f0d468" stroke-width="0.9"/>
<path d="M50.2,5.4 q-1.4,2.2 0.4,3.6" fill="none" stroke="#fff4b0" stroke-width="0.8"/>
<polygon points="75.2,4.2 78.4,3.1 86.1,3.1 86.1,13 75.2,13" fill="#1e8cf0"/>
<polygon points="75.6,4.6 78.2,3.8 78.2,12.6 75.6,12.6" fill="#e8f4ff"/>
<rect x="78.6" y="3.4" width="7.3" height="1" fill="#58b0ff"/>
<rect x="80" y="7.2" width="5" height="1.7" fill="#d4eaff"/>
<path d="M75.2,18.6 a2.9,2.9 0 0 1 -0.2,-5.6 a3.6,3.6 0 0 1 6.2,-1.5 a3.4,3.4 0 0 1 5.4,1.6 a2.8,2.8 0 0 1 -0.4,5.5 z" fill="url(#gcl)" stroke="#4a6aa8" stroke-width="0.9"/>
<path d="M109.1,10.4 L112.9,3.8 A7.6,7.6 0 0 1 109.1,18 z" fill="#8ccc8c" opacity="0.5"/>
<path d="M112.9,3.9 A7.5,7.5 0 1 0 108.2,17.85" fill="none" stroke="#9ab4e6" stroke-width="1.1"/>
<path d="M111.6,6.2 A4.9,4.9 0 1 0 108.2,15.2" fill="none" stroke="#7a9ce0" stroke-width="1.1"/>
<path d="M112.9,3.9 A7.5,7.5 0 0 1 110,17.9" fill="none" stroke="#7ab87a" stroke-width="1.3"/>
<path d="M111.6,6.2 A4.9,4.9 0 0 1 110,15.2" fill="none" stroke="#8cc48c" stroke-width="1.2"/>
<circle cx="109" cy="10.2" r="1.8" fill="#2a5cd8"/>
<rect x="108.7" y="10.8" width="1.5" height="7.8" fill="#22a022"/>
<polygon points="128.4,9.8 144,9.2 140.5,13.5 135.9,18.6" fill="url(#gfc)" stroke="#c8960c" stroke-width="0.7"/>
<ellipse cx="136" cy="8.2" rx="8" ry="2.4" fill="#56a8dc" stroke="#2e84b4" stroke-width="0.7"/>
<path d="M132.2,8 q0.2,-4.8 3.7,-4.9 q3.5,0.1 3.7,4.9 z" fill="#6cbcea" stroke="#2e84b4" stroke-width="0.7"/>
<circle cx="140.7" cy="14.5" r="4.1" fill="url(#grd)"/>
<rect x="139.4" y="13.2" width="2.7" height="2.7" fill="#ffffff"/>
</g>
<rect x="222" y="5" width="1" height="14" fill="#555555"/>
<rect x="221" y="6" width="3" height="1" fill="#555555"/>
<rect x="220" y="16" width="14" height="1" fill="#555555"/>
<rect x="232" y="15" width="1" height="3" fill="#555555"/>
<rect x="228" y="6" width="1" height="9" fill="#0a8a0a"/><rect x="229" y="7" width="2" height="1" fill="#0a8a0a"/><rect x="226" y="13" width="2" height="1" fill="#0a8a0a"/>
<rect x="250" y="5" width="1" height="14" fill="#555555"/>
<rect x="249" y="6" width="3" height="1" fill="#555555"/>
<rect x="248" y="16" width="14" height="1" fill="#555555"/>
<rect x="260" y="15" width="1" height="3" fill="#555555"/>
<rect x="256" y="3" width="1" height="12" fill="#0a9a0a"/><rect x="254" y="5" width="5" height="8" fill="#0a9a0a"/><rect x="255" y="6" width="3" height="6" fill="#40e040"/>
<rect x="278" y="5" width="1" height="14" fill="#555555"/>
<rect x="277" y="6" width="3" height="1" fill="#555555"/>
<rect x="276" y="16" width="14" height="1" fill="#555555"/>
<rect x="288" y="15" width="1" height="3" fill="#555555"/>
<rect x="402" y="5" width="1" height="14" fill="#555555"/>
<rect x="401" y="6" width="3" height="1" fill="#555555"/>
<rect x="400" y="16" width="14" height="1" fill="#555555"/>
<rect x="412" y="15" width="1" height="3" fill="#555555"/>
<rect x="430" y="5" width="1" height="14" fill="#555555"/>
<rect x="429" y="6" width="3" height="1" fill="#555555"/>
<rect x="428" y="16" width="14" height="1" fill="#555555"/>
<rect x="440" y="15" width="1" height="3" fill="#555555"/>
<path d="M277,13.8 C279,12.5 281,8.3 283,8.3 C285,8.3 287,11.8 289,12.3" fill="none" stroke="#1a8a1a" stroke-width="1.2" shape-rendering="geometricPrecision"/>
<g shape-rendering="geometricPrecision">
<line x1="317.70000000000005" y1="12.8" x2="323.1" y2="17.8" stroke="#a88410" stroke-width="2.8" stroke-linecap="butt"/>
<line x1="317.70000000000005" y1="12.8" x2="322.70000000000005" y2="17.4" stroke="#ecd458" stroke-width="1.2" stroke-linecap="butt"/>
<circle cx="314.1" cy="8.85" r="5.4" fill="#d6ecfa" stroke="#3a80c8" stroke-width="1.2"/>
<rect x="311.1" y="8.1" width="6" height="1.6" fill="#3a78a8"/>
<rect x="313.3" y="5.9" width="1.6" height="6" fill="#3a78a8"/>
<line x1="345.8" y1="12.8" x2="351.2" y2="17.8" stroke="#a88410" stroke-width="2.8" stroke-linecap="butt"/>
<line x1="345.8" y1="12.8" x2="350.8" y2="17.4" stroke="#ecd458" stroke-width="1.2" stroke-linecap="butt"/>
<circle cx="342.2" cy="8.85" r="5.4" fill="#d6ecfa" stroke="#3a80c8" stroke-width="1.2"/>
<rect x="339.2" y="8.1" width="6" height="1.6" fill="#3a78a8"/>
<rect x="364" y="3" width="8" height="7.9" fill="#3a9a1a"/>
<rect x="365.1" y="5.6" width="5.8" height="4.3" fill="#f4f8ff"/>
<rect x="366.2" y="6.8" width="3.6" height="0.9" fill="#3a9a1a" opacity="0.45"/>
<rect x="365.1" y="4.1" width="0.9" height="0.9" fill="#f4f8ff" opacity="0.8"/>
<rect x="372.2" y="3" width="8" height="7.9" fill="#1a48c8"/>
<rect x="373.3" y="5.6" width="5.8" height="4.3" fill="#f4f8ff"/>
<rect x="374.4" y="6.8" width="3.6" height="0.9" fill="#1a48c8" opacity="0.45"/>
<rect x="373.3" y="4.1" width="0.9" height="0.9" fill="#f4f8ff" opacity="0.8"/>
<rect x="364" y="11.1" width="8" height="7.9" fill="#1a48c8"/>
<rect x="365.1" y="13.7" width="5.8" height="4.3" fill="#f4f8ff"/>
<rect x="366.2" y="14.899999999999999" width="3.6" height="0.9" fill="#1a48c8" opacity="0.45"/>
<rect x="365.1" y="12.2" width="0.9" height="0.9" fill="#f4f8ff" opacity="0.8"/>
<rect x="372.2" y="11.1" width="8" height="7.9" fill="#3a9a1a"/>
<rect x="373.3" y="13.7" width="5.8" height="4.3" fill="#f4f8ff"/>
<rect x="374.4" y="14.899999999999999" width="3.6" height="0.9" fill="#3a9a1a" opacity="0.45"/>
<rect x="373.3" y="12.2" width="0.9" height="0.9" fill="#f4f8ff" opacity="0.8"/>
<polygon points="407.3,7.4 407.3,13.6 410.6,10.5" fill="#b0f0a0" stroke="#1a9a1a" stroke-width="1"/>
<rect x="436" y="5" width="1.2" height="9.6" fill="#1a6aa0"/>
<polygon points="437.4,10.5 440,8.4 440,9.9 442,9.9 442,11.1 440,11.1 440,12.6" fill="#d04000"/>
<path d="M461.5,3.8 h7.5 l3.5,3.5 v9 h-11 z" fill="#fcfcfc" stroke="#8c8c8c" stroke-width="1"/>
<path d="M464,6.5 v7 M464,9 h3" fill="none" stroke="#707050" stroke-width="0.9"/>
<path d="M469.3,9.6 h3.8 v3.7 h3.7 v3.8 h-3.7 v3.7 h-3.8 v-3.7 h-3.7 v-3.8 h3.7 z" fill="#22c822" stroke="#0a8a0a" stroke-width="0.8"/>
<circle cx="507" cy="10.9" r="6.9" fill="#f6f9ff" stroke="url(#gck)" stroke-width="2.4"/>
<path d="M506.6,7 v4 l2.8,0.8" fill="none" stroke="#303030" stroke-width="1"/>
<circle cx="511.70" cy="10.90" r="0.35" fill="#8090a8"/>
<circle cx="511.07" cy="13.25" r="0.35" fill="#8090a8"/>
<circle cx="509.35" cy="14.97" r="0.35" fill="#8090a8"/>
<circle cx="507.00" cy="15.60" r="0.35" fill="#8090a8"/>
<circle cx="504.65" cy="14.97" r="0.35" fill="#8090a8"/>
<circle cx="502.93" cy="13.25" r="0.35" fill="#8090a8"/>
<circle cx="502.30" cy="10.90" r="0.35" fill="#8090a8"/>
<circle cx="502.93" cy="8.55" r="0.35" fill="#8090a8"/>
<circle cx="504.65" cy="6.83" r="0.35" fill="#8090a8"/>
<circle cx="507.00" cy="6.20" r="0.35" fill="#8090a8"/>
<circle cx="509.35" cy="6.83" r="0.35" fill="#8090a8"/>
<circle cx="511.07" cy="8.55" r="0.35" fill="#8090a8"/>
<rect x="538.5" y="4.5" width="15.4" height="13.2" fill="#ffffff" stroke="#3a7ad0" stroke-width="1"/>
<rect x="539" y="5" width="14.4" height="1.8" fill="#4a8ae0"/>
<rect x="539" y="12" width="14.4" height="0.8" fill="#3a7ad0"/>
<path d="M540.5,10.2 l2.5,0 l2,-1.6 l2.5,1 l2.5,0 l2,-1.4" fill="none" stroke="#a02010" stroke-width="1.2"/>
<path d="M541.5,15.6 l2.5,-0.6 l2,0.6 l3,-2.2 l3,2.2" fill="none" stroke="#1a8a1a" stroke-width="1.2"/>
<polygon points="590.4,4 590.4,14.4 592.8,12.4 595.2,17.6 597,16.8 594.8,11.8 598,11.6" fill="#4a4a4a"/>
<path d="M732.7,12.5 L740.7,5.1 M738.2,17.6 L747,9.1" fill="none" stroke="#5a5a5a" stroke-width="0.9"/>
<path d="M733.6,16.4 L735.3,17.4 L735.4,10.5 L738.2,14.6 L738.5,9.1 L741.5,13.5 L741.5,7.3 L744.6,9.5 L744.4,3.2" fill="none" stroke="#3c3c3c" stroke-width="1.25" stroke-linejoin="miter"/>
<polygon points="849.5,4.8 853,8 851,8 851,9.4 848,9.4 848,8 846,8" fill="#4a4a4a"/>
<polygon points="856.5,17.8 860,14.4 858,14.4 858,13 855,13 855,14.4 853,14.4" fill="#4a4a4a"/>
<path d="M848.5,12 l2,2 l4.5,-5" fill="none" stroke="#4a4a4a" stroke-width="1.2"/>
<line x1="1606.8" y1="11.2" x2="1601.8" y2="16" stroke="#2a5ad0" stroke-width="2.6"/>
<circle cx="1609.6" cy="8.6" r="3.7" fill="#f6f8ff" stroke="#2a5ad0" stroke-width="1.2"/>
<path d="M1627,14 a5.5,4.2 0 1 1 4.5,4.2 l-2.2,1.6 l0.3,-2.2 a5,4 0 0 1 -2.6,-3.6 z" fill="#e8e8e8" stroke="#b8b8b8" stroke-width="0.8"/>
<circle cx="1640.4" cy="8.2" r="8.1" fill="url(#gbd)"/>
</g>
<rect x="622" y="4" width="1" height="15" fill="#4a4a4a"/><rect x="615" y="11" width="15" height="1" fill="#4a4a4a"/>
<rect x="621" y="10" width="3" height="3" fill="#f0f0f0"/><rect x="622" y="11" width="1" height="1" fill="#4a4a4a"/>
<rect x="656" y="5" width="1" height="13" fill="#4a4a4a"/>
<rect x="679" y="11" width="12" height="1" fill="#4a4a4a"/>
<line x1="706.4" y1="17.8" x2="719" y2="5.7" stroke="#4a4a4a" stroke-width="1.1" shape-rendering="geometricPrecision"/>
<rect x="762" y="4" width="1" height="1" fill="#4a4a4a"/>
<rect x="764" y="4" width="1" height="1" fill="#4a4a4a"/>
<rect x="766" y="4" width="1" height="1" fill="#4a4a4a"/>
<rect x="768" y="4" width="1" height="1" fill="#4a4a4a"/>
<rect x="770" y="4" width="1" height="1" fill="#4a4a4a"/>
<rect x="772" y="4" width="1" height="1" fill="#4a4a4a"/>
<rect x="774" y="4" width="1" height="1" fill="#4a4a4a"/>
<rect x="762" y="7" width="1" height="1" fill="#4a4a4a"/>
<rect x="764" y="7" width="1" height="1" fill="#4a4a4a"/>
<rect x="766" y="7" width="1" height="1" fill="#4a4a4a"/>
<rect x="768" y="7" width="1" height="1" fill="#4a4a4a"/>
<rect x="770" y="7" width="1" height="1" fill="#4a4a4a"/>
<rect x="772" y="7" width="1" height="1" fill="#4a4a4a"/>
<rect x="774" y="7" width="1" height="1" fill="#4a4a4a"/>
<rect x="762" y="11" width="1" height="1" fill="#4a4a4a"/>
<rect x="764" y="11" width="1" height="1" fill="#4a4a4a"/>
<rect x="766" y="11" width="1" height="1" fill="#4a4a4a"/>
<rect x="768" y="11" width="1" height="1" fill="#4a4a4a"/>
<rect x="770" y="11" width="1" height="1" fill="#4a4a4a"/>
<rect x="772" y="11" width="1" height="1" fill="#4a4a4a"/>
<rect x="774" y="11" width="1" height="1" fill="#4a4a4a"/>
<rect x="762" y="15" width="1" height="1" fill="#4a4a4a"/>
<rect x="764" y="15" width="1" height="1" fill="#4a4a4a"/>
<rect x="766" y="15" width="1" height="1" fill="#4a4a4a"/>
<rect x="768" y="15" width="1" height="1" fill="#4a4a4a"/>
<rect x="770" y="15" width="1" height="1" fill="#4a4a4a"/>
<rect x="819" y="5" width="1" height="1" fill="#4a4a4a"/><rect x="819" y="17" width="1" height="1" fill="#4a4a4a"/>
<rect x="821" y="5" width="1" height="1" fill="#4a4a4a"/><rect x="821" y="17" width="1" height="1" fill="#4a4a4a"/>
<rect x="823" y="5" width="1" height="1" fill="#4a4a4a"/><rect x="823" y="17" width="1" height="1" fill="#4a4a4a"/>
<rect x="825" y="5" width="1" height="1" fill="#4a4a4a"/><rect x="825" y="17" width="1" height="1" fill="#4a4a4a"/>
<rect x="827" y="5" width="1" height="1" fill="#4a4a4a"/><rect x="827" y="17" width="1" height="1" fill="#4a4a4a"/>
<rect x="829" y="5" width="1" height="1" fill="#4a4a4a"/><rect x="829" y="17" width="1" height="1" fill="#4a4a4a"/>
<rect x="831" y="5" width="1" height="1" fill="#4a4a4a"/><rect x="831" y="17" width="1" height="1" fill="#4a4a4a"/>
<rect x="819" y="5" width="1" height="1" fill="#4a4a4a"/><rect x="831" y="5" width="1" height="1" fill="#4a4a4a"/>
<rect x="819" y="7" width="1" height="1" fill="#4a4a4a"/><rect x="831" y="7" width="1" height="1" fill="#4a4a4a"/>
<rect x="819" y="9" width="1" height="1" fill="#4a4a4a"/><rect x="831" y="9" width="1" height="1" fill="#4a4a4a"/>
<rect x="819" y="11" width="1" height="1" fill="#4a4a4a"/><rect x="831" y="11" width="1" height="1" fill="#4a4a4a"/>
<rect x="819" y="13" width="1" height="1" fill="#4a4a4a"/><rect x="831" y="13" width="1" height="1" fill="#4a4a4a"/>
<rect x="819" y="15" width="1" height="1" fill="#4a4a4a"/><rect x="831" y="15" width="1" height="1" fill="#4a4a4a"/>
<rect x="819" y="17" width="1" height="1" fill="#4a4a4a"/><rect x="831" y="17" width="1" height="1" fill="#4a4a4a"/>
<rect x="483" y="10" width="5" height="1" fill="#000"/>
<rect x="484" y="11" width="3" height="1" fill="#000"/>
<rect x="485" y="12" width="1" height="1" fill="#000"/>
<rect x="522" y="10" width="5" height="1" fill="#000"/>
<rect x="523" y="11" width="3" height="1" fill="#000"/>
<rect x="524" y="12" width="1" height="1" fill="#000"/>
<rect x="561" y="10" width="5" height="1" fill="#000"/>
<rect x="562" y="11" width="3" height="1" fill="#000"/>
<rect x="563" y="12" width="1" height="1" fill="#000"/>
<rect x="867" y="10" width="5" height="1" fill="#000"/>
<rect x="868" y="11" width="3" height="1" fill="#000"/>
<rect x="869" y="12" width="1" height="1" fill="#000"/>
</svg>
<span class="ax" style="top:26px">74.290</span>
<span class="ax" style="top:59px">73.705</span>
<span class="ax" style="top:92px">73.105</span>
<span class="ax" style="top:125px">72.505</span>
<span class="ax" style="top:158px">71.920</span>
<span class="ax" style="top:191px">71.320</span>
<span class="ax" style="top:224px">70.735</span>
<span class="ax" style="top:257px">70.135</span>
<span class="ax" style="top:290px">69.535</span>
<span class="ax" style="top:323px">68.950</span>
<span class="ax" style="top:356px">68.350</span>
<span class="ax" style="top:389px">67.750</span>
<span class="ax" style="top:422px">67.165</span>
<span class="ax" style="top:455px">66.565</span>
<span class="ax" style="top:488px">65.965</span>
<span class="ax" style="top:521px">65.380</span>
<span class="ax" style="top:554px">64.780</span>
<span class="ax" style="top:587px">64.195</span>
<span class="ax" style="top:620px">63.595</span>
<span class="ax" style="top:632px;left:1617px">0.5535</span>
<span class="ax" style="top:644px;left:1617px">0.00</span>
<span class="ax" style="top:706px;left:1616px">-2.1713</span>
<span class="ax" style="top:722px;left:1615px">100</span>
<span class="ax" style="top:733px;left:1615px">80</span>
<span class="ax" style="top:757px;left:1615px">50</span>
<span class="ax" style="top:786px;left:1615px">15</span>
<span class="ax" style="top:792px;left:1615px">0</span>
<div class="bx" style="top:52px;background:#ff0000"><span class="ax" style="left:4px;top:-1px">73.821</span></div>
<div class="bx" style="top:99px;background:#ff0000"><span class="ax" style="left:4px;top:-1px">72.985</span></div>
<div class="bx" style="top:145px;background:#ff8000"><span class="ax" style="left:4px;top:-1px">72.149</span></div>
<div class="bx" style="top:163px;background:#000000"><span class="ax" style="left:4px;top:-1px">71.848</span></div>
<div class="bx" style="top:204px;background:#0000ff"><span class="ax" style="left:4px;top:-1px">71.095</span></div>
<div class="bx" style="top:243px;background:#0000ff"><span class="ax" style="left:4px;top:-1px">70.392</span></div>
<span class="tm" style="left:4px">3 May 2023</span>
<span class="tm" style="left:68px">3 May 20:00</span>
<span class="tm" style="left:132px">4 May 12:00</span>
<span class="tm" style="left:196px">5 May 04:00</span>
<span class="tm" style="left:260px">5 May 20:00</span>
<span class="tm" style="left:324px">8 May 08:00</span>
<span class="tm" style="left:388px">9 May 00:00</span>
<span class="tm" style="left:452px">9 May 16:00</span>
<span class="tm" style="left:516px">10 May 08:00</span>
<span class="tm" style="left:580px">11 May 00:00</span>
<span class="tm" style="left:644px">11 May 16:00</span>
<span class="tm" style="left:708px">12 May 08:00</span>
<span class="tm" style="left:772px">14 May 23:00</span>
<span class="tm" style="left:836px">15 May 12:00</span>
<span class="tm" style="left:900px">16 May 04:00</span>
<span class="tm" style="left:964px">16 May 20:00</span>
<span class="tm" style="left:1028px">17 May 12:00</span>
<span class="tm" style="left:1092px">18 May 04:00</span>
<span class="tm" style="left:1156px">18 May 22:00</span>
<span class="tm" style="left:1220px">19 May 12:00</span>
<span class="lb" style="left:20px;top:29px">USOil-,H4&nbsp; 71.959 71.968 71.827 71.848</span>
<span class="lb" style="left:9px;top:634px;letter-spacing:0.15px">MACD(12,26,9) 0.2167 0.2912</span>
<span class="lb" style="left:9px;top:724px;letter-spacing:0.1px">RSI(14) 49.9759</span>
<span class="tb" style="left:-2.5px">新订单</span>
<span class="tb" style="left:149.5px">自动交易</span>
<span class="tf" style="left:893px">M1</span>
<span class="tf" style="left:921px">M5</span>
<span class="tf" style="left:947px">M15</span>
<span class="tf" style="left:975px">M30</span>
<span class="tf" style="left:1006px">H1</span>
<span class="tf" style="left:1033px">H4</span>
<span class="tf" style="left:1062px">D1</span>
<span class="tf" style="left:1090px">W1</span>
<span class="tf" style="left:1116px">MN</span>
<span style="left:744px;top:14px;font-size:6.5px;line-height:7px;font-weight:bold;color:#333">E</span>
<span style="left:772px;top:14px;font-size:6.5px;line-height:7px;font-weight:bold;color:#333">F</span>
<span style="left:792px;top:4px;font-size:12.5px;line-height:14px;font-weight:bold;color:#5a5a5a">A</span>
<span style="left:821px;top:5px;font-size:10.5px;line-height:12px;font-weight:bold;color:#4a4a4a">T</span>
<span style="left:1636px;top:2px;font-size:13px;line-height:14px;color:#fff">1</span>
</body>
</html>
